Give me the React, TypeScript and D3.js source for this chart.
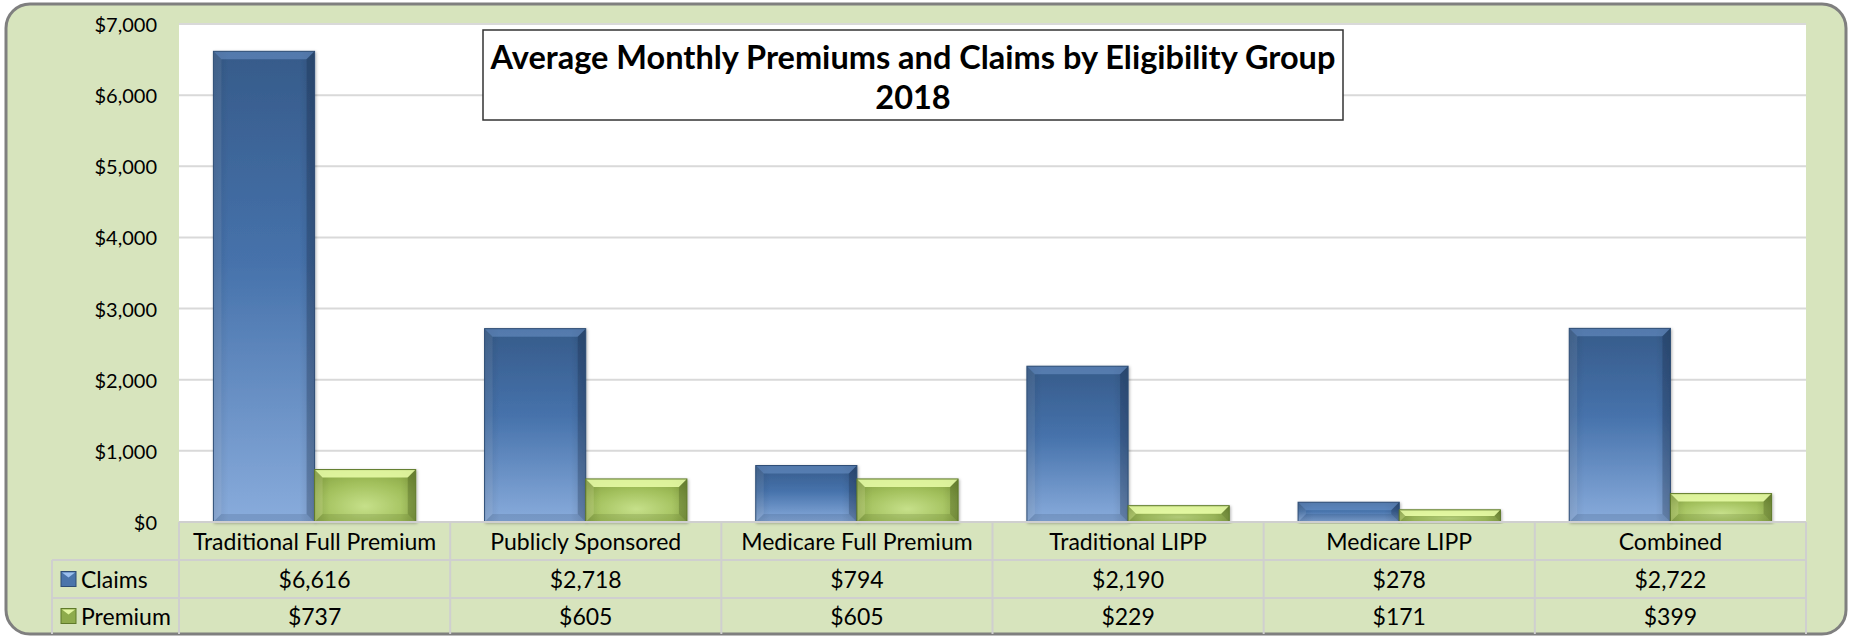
import * as d3 from 'd3'

const categories = [
	'Traditional Full Premium',
	'Publicly Sponsored',
	'Medicare Full Premium',
	'Traditional LIPP',
	'Medicare LIPP',
	'Combined',
]
const claims = [6616, 2718, 794, 2190, 278, 2722]
const premium = [737, 605, 605, 229, 171, 399]
const seriesNames = ['Claims', 'Premium']
const titleLines = ['Average Monthly Premiums and Claims by Eligibility Group', '2018']

const width = 1851
const height = 637
const plotLeft = 179
const plotRight = 1806
const plotTop = 24
const plotBottom = 522
const tableLeft = 52
const rowY = [522, 560, 598, 634]
const font = "Lato, 'Open Sans', sans-serif"

const fmt = d3.format('$,.0f')

// bevelled bar, like the Excel preset
function Bar({ x, y, w, h, kind }: { x: number; y: number; w: number; h: number; kind: string }) {
	const b = Math.max(1, Math.min(8, h / 2, w / 2))
	const blue = kind === 'Claims'
	const top = blue ? 'rgba(120,160,215,0.45)' : 'rgba(235,255,170,0.85)'
	const side = blue ? 'rgba(255,255,255,0.08)' : 'rgba(255,255,200,0.15)'
	const dark = blue ? 'rgba(20,40,70,0.28)' : 'rgba(60,80,20,0.3)'
	return (
		<g filter="url(#shadow)">
			<rect x={x} y={y} width={w} height={h} fill={blue ? 'url(#blueV)' : 'url(#greenR)'} />
			<rect x={x} y={y} width={w} height={h} fill="url(#edgeH)" />
			<polygon points={`${x},${y} ${x + w},${y} ${x + w - b},${y + b} ${x + b},${y + b}`} fill={top} />
			<polygon points={`${x},${y} ${x + b},${y + b} ${x + b},${y + h - b} ${x},${y + h}`} fill={side} />
			<polygon points={`${x + w},${y} ${x + w - b},${y + b} ${x + w - b},${y + h - b} ${x + w},${y + h}`} fill={dark} />
			<polygon points={`${x},${y + h} ${x + b},${y + h - b} ${x + w - b},${y + h - b} ${x + w},${y + h}`} fill={dark} opacity={0.5} />
			<rect x={x} y={y} width={w} height={h} fill="none" stroke={blue ? '#2e4d75' : '#5f7a2a'} strokeWidth={1} />
		</g>
	)
}

function Swatch({ x, y, kind }: { x: number; y: number; kind: string }) {
	const blue = kind === 'Claims'
	const s = 15
	return (
		<g>
			<rect x={x} y={y} width={s} height={s} fill={blue ? '#4a74aa' : '#8eab4c'} stroke={blue ? '#2e4d75' : '#5f7a2a'} strokeWidth={1} />
			<polygon points={`${x + 1},${y + 1} ${x + s - 1},${y + 1} ${x + s / 2},${y + 6}`} fill={blue ? '#9cc0ee' : '#e2f5a0'} />
		</g>
	)
}

export default function App() {
	const x = d3.scaleBand<string>().domain(categories).range([plotLeft, plotRight]).padding(0)
	const xSub = d3.scaleBand<string>().domain(seriesNames).range([0, x.bandwidth()]).paddingInner(0).paddingOuter(0.34)
	const y = d3.scaleLinear().domain([0, 7000]).range([plotBottom, plotTop])
	const ticks = y.ticks(7)
	const values = [claims, premium]

	return (
		<div style={{ position: 'absolute', left: 0, top: 0 }}>
			<svg width={width} height={height} style={{ display: 'block', fontFamily: font }}>
				<defs>
					<linearGradient id="blueV" x1="0" y1="0" x2="0" y2="1">
						<stop offset="0" stopColor="#365b8a" />
						<stop offset="0.45" stopColor="#4672ab" />
						<stop offset="1" stopColor="#89acdc" />
					</linearGradient>
					<radialGradient id="greenR" cx="0.5" cy="0.7" r="0.75">
						<stop offset="0" stopColor="#c6e08a" />
						<stop offset="0.6" stopColor="#a2c05c" />
						<stop offset="1" stopColor="#88a544" />
					</radialGradient>
					<linearGradient id="edgeH" x1="0" y1="0" x2="1" y2="0">
						<stop offset="0" stopColor="#000" stopOpacity="0.1" />
						<stop offset="0.15" stopColor="#000" stopOpacity="0" />
						<stop offset="0.85" stopColor="#000" stopOpacity="0" />
						<stop offset="1" stopColor="#000" stopOpacity="0.12" />
					</linearGradient>
					<filter id="shadow" x="-10%" y="-10%" width="120%" height="120%">
						<feDropShadow dx="1" dy="1" stdDeviation="1.5" floodColor="#000" floodOpacity="0.3" />
					</filter>
				</defs>

				<rect x={6} y={4} width={1840} height={630} rx={24} fill="#d7e4bd" stroke="#7f7f7f" strokeWidth={3} />
				<rect x={plotLeft} y={plotTop} width={plotRight - plotLeft} height={plotBottom - plotTop} fill="#fff" />

				{ticks.map((t) => (
					<g key={t}>
						<line x1={plotLeft} x2={plotRight} y1={y(t)} y2={y(t)} stroke="#d9d9d9" strokeWidth={2} />
						<text x={157} y={y(t)} textAnchor="end" dominantBaseline="central" fontSize={20}>
							{fmt(t)}
						</text>
					</g>
				))}

				{categories.map((c, i) =>
					seriesNames.map((s, k) => {
						const v = values[k][i]
						const bx = (x(c) ?? 0) + (xSub(s) ?? 0)
						return <Bar key={c + s} x={bx} y={y(v)} w={xSub.bandwidth()} h={y(0) - y(v)} kind={s} />
					})
				)}

				{/* data table */}
				<g stroke="#cfcfcf" strokeWidth={2}>
					<line x1={plotLeft} x2={plotRight} y1={rowY[0]} y2={rowY[0]} />
					<line x1={tableLeft} x2={plotRight} y1={rowY[1]} y2={rowY[1]} />
					<line x1={tableLeft} x2={plotRight} y1={rowY[2]} y2={rowY[2]} />
					<line x1={tableLeft} x2={tableLeft} y1={rowY[1]} y2={rowY[3]} />
					{[...categories.map((c) => x(c) ?? 0), plotRight].map((xx, i) => (
						<line key={i} x1={xx} x2={xx} y1={rowY[0]} y2={rowY[3]} />
					))}
				</g>
				{categories.map((c, i) => {
					const cx = (x(c) ?? 0) + x.bandwidth() / 2
					return (
						<g key={c} fontSize={23} textAnchor="middle" dominantBaseline="central">
							<text x={cx} y={(rowY[0] + rowY[1]) / 2}>{c}</text>
							<text x={cx} y={(rowY[1] + rowY[2]) / 2}>{fmt(claims[i])}</text>
							<text x={cx} y={(rowY[2] + rowY[3]) / 2}>{fmt(premium[i])}</text>
						</g>
					)
				})}
				{seriesNames.map((s, k) => {
					const cy = (rowY[k + 1] + rowY[k + 2]) / 2
					return (
						<g key={s}>
							<Swatch x={61} y={cy - 7.5} kind={s} />
							<text x={81} y={cy} fontSize={23} dominantBaseline="central">{s}</text>
						</g>
					)
				})}

				{/* title box */}
				<rect x={483} y={30} width={860} height={90} fill="#fff" stroke="#333" strokeWidth={1.5} />
				{titleLines.map((t, i) => (
					<text key={t} x={913} y={56 + i * 40} textAnchor="middle" dominantBaseline="central" fontSize={32.5} fontWeight="bold">
						{t}
					</text>
				))}
			</svg>
		</div>
	)
}
